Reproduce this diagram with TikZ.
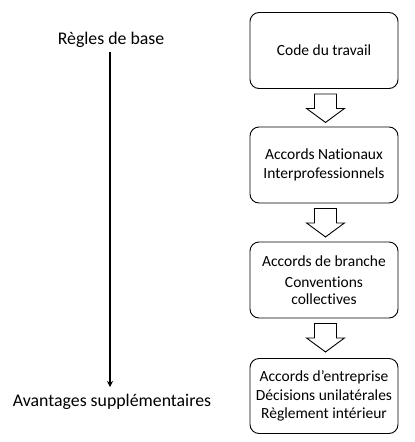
\documentclass[tikz,border=0pt]{standalone}
\usepackage{fontspec}
\setmainfont[Ligatures=NoCommon]{Carlito}
\usetikzlibrary{arrows.meta,calc}
\tikzset{
  box/.style={draw=black, line width=0.9pt, rounded corners=9pt, minimum width=148pt, minimum height=76pt, align=center, font=\fontsize{15.5}{16.5}\selectfont, inner sep=0pt},
  side/.style={font=\fontsize{17.8}{20}\selectfont, inner sep=0pt},
  downarrow/.pic={\draw[line width=0.9pt, fill=white] (-11,0) -- (11,0) -- (11,14.5) -- (19,14.5) -- (0,28.5) -- (-19,14.5) -- (-11,14.5) -- cycle;},
  scale line/.style={line width=1.6pt, -{Stealth[length=6pt,width=6pt]}}
}
\begin{document}
\begin{tikzpicture}[x=1pt,y=-1pt]
\useasboundingbox (0,0) rectangle (415,442);
\node[box] (b1) at (324,50.5) {Code du travail};
\node[box] (b2) at (324,165) {Accords Nationaux\\[1.8pt]Interprofessionnels};
\node[box] (b3) at (324,280) {Accords de branche\\[5pt]Conventions\\collectives};
\node[box, minimum height=75pt, font=\fontsize{15.5}{18.2}\selectfont] (b4) at (324,396) {Accords d’entreprise\\Décisions unilatérales\\Règlement intérieur};
\pic at ($(b1.south)+(1.5,5)$) {downarrow};
\pic at ($(b2.south)+(1.5,5)$) {downarrow};
\pic at ($(b3.south)+(1.5,5)$) {downarrow};
\node[side] (top) at (111,40) {Règles de base};
\node[side] (bot) at (112,402) {Avantages supplémentaires};
\coordinate (ls) at (110,52);
\coordinate (le) at (110,387);
\draw[scale line] (ls) -- (le);
\end{tikzpicture}
\end{document}
